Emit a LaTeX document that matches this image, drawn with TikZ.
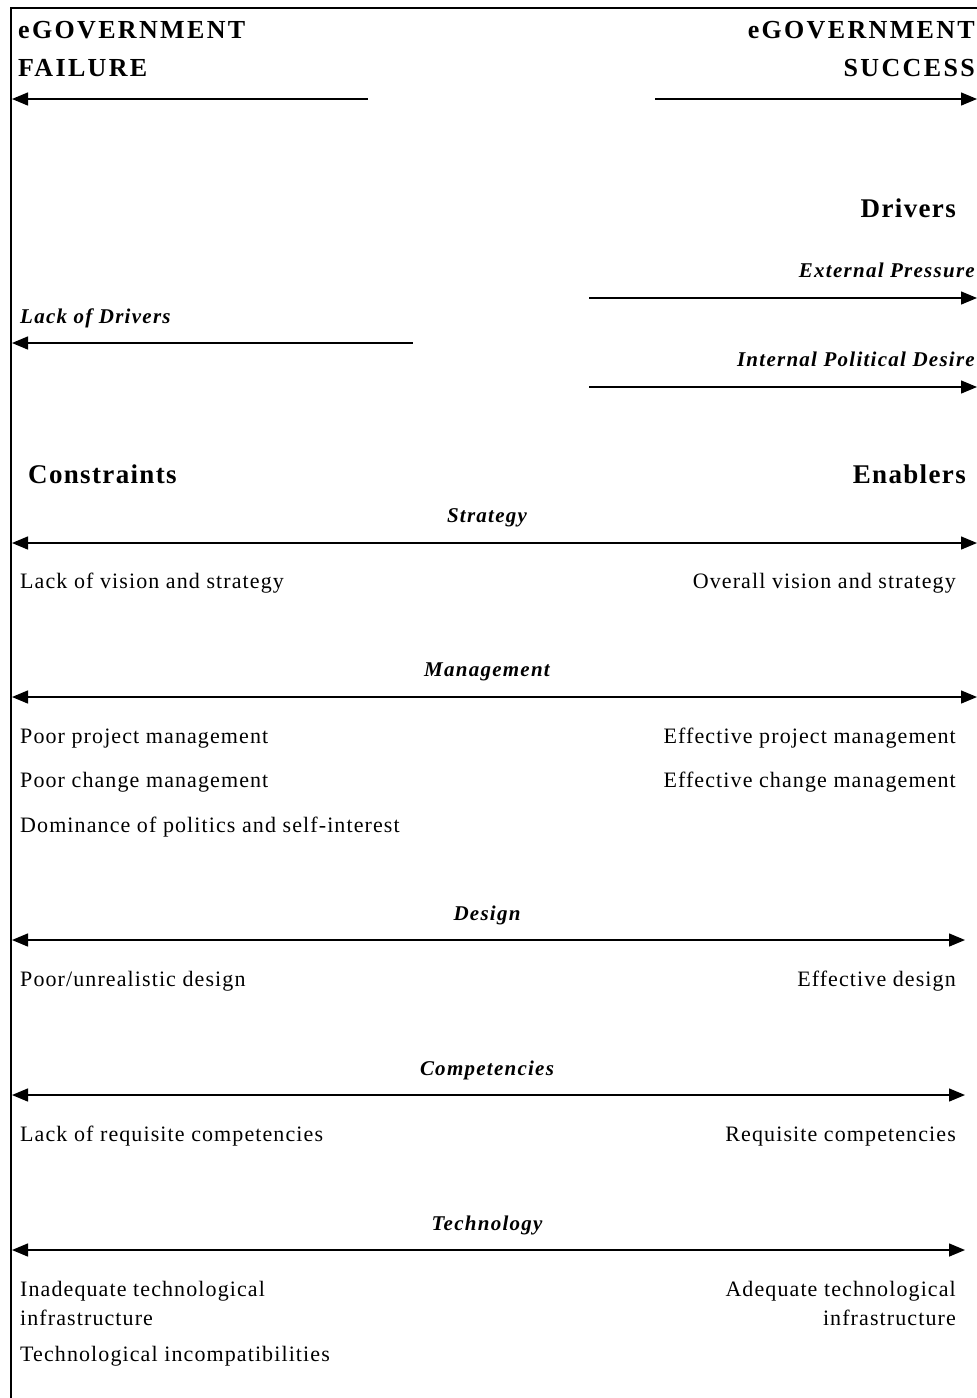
\documentclass[tikz,border=0pt]{standalone}
\usepackage{fontspec}
\setmainfont{Liberation Serif}[LetterSpace=5]
\usetikzlibrary{arrows.meta}
\begin{document}
\begin{tikzpicture}[x=1pt,y=-1pt,
  body/.style={inner sep=0pt,font=\fontsize{22}{26}\selectfont},
  lab/.style={inner sep=0pt,font=\fontsize{21}{25}\selectfont\bfseries\itshape\addfontfeature{LetterSpace=6}},
  head/.style={inner sep=0pt,font=\fontsize{26}{38}\selectfont\bfseries\addfontfeature{LetterSpace=9}},
  big/.style={inner sep=0pt,font=\fontsize{27}{30}\selectfont\bfseries\addfontfeature{LetterSpace=5}},
  tip/.tip={Triangle[length=16pt,width=13pt]},
  rarr/.style={line width=1.4pt,-tip},
  larr/.style={line width=1.4pt,tip-},
  darr/.style={line width=1.4pt,tip-tip}]
\useasboundingbox (0,0) rectangle (977,1398);
\draw[line width=2pt] (11,1398) -- (11,8) -- (977,8);

% headers
\node[head,anchor=base west] (fail1) at (18,38) {eGOVERNMENT};
\node[head,anchor=base west] (fail2) at (18,76) {FAILURE};
\node[head,anchor=base east] (succ1) at (975,38) {eGOVERNMENT};
\node[head,anchor=base east] (succ2) at (975,76) {SUCCESS};
\coordinate (f0) at (12,99); \coordinate (f1) at (368,99);
\coordinate (s0) at (655,99); \coordinate (s1) at (977,99);
\draw[larr] (f0) -- (f1);
\draw[rarr] (s0) -- (s1);

% drivers
\node[big,anchor=base east] (drv) at (956,217) {Drivers};
\node[lab,anchor=base east] (ext) at (975,277) {External Pressure};
\coordinate (e0) at (589,298); \coordinate (e1) at (977,298);
\draw[rarr] (e0) -- (e1);
\node[lab,anchor=base west] (lack) at (20,323) {Lack of Drivers};
\coordinate (l0) at (12,343); \coordinate (l1) at (413,343);
\draw[larr] (l0) -- (l1);
\node[lab,anchor=base east] (intp) at (975,366) {Internal Political Desire};
\coordinate (i0) at (589,387); \coordinate (i1) at (977,387);
\draw[rarr] (i0) -- (i1);

% constraints / enablers
\node[big,anchor=base west] (con) at (28,483) {Constraints};
\node[big,anchor=base east] (ena) at (966,483) {Enablers};

% strategy
\node[lab,anchor=base] (str) at (487,522) {Strategy};
\coordinate (st0) at (12,543); \coordinate (st1) at (977,543);
\draw[darr] (st0) -- (st1);
\node[body,anchor=base west] (str1) at (20,588) {Lack of vision and strategy};
\node[body,anchor=base east] (str2) at (956,588) {Overall vision and strategy};

% management
\node[lab,anchor=base] (man) at (487,676) {Management};
\coordinate (m0) at (12,697); \coordinate (m1) at (977,697);
\draw[darr] (m0) -- (m1);
\node[body,anchor=base west] (man1) at (20,743) {Poor project management};
\node[body,anchor=base west] (man2) at (20,787) {Poor change management};
\node[body,anchor=base west] (man3) at (20,832) {Dominance of politics and self-interest};
\node[body,anchor=base east] (man4) at (956,743) {Effective project management};
\node[body,anchor=base east] (man5) at (956,787) {Effective change management};

% design
\node[lab,anchor=base] (des) at (487,920) {Design};
\coordinate (d0) at (12,940); \coordinate (d1) at (965,940);
\draw[darr] (d0) -- (d1);
\node[body,anchor=base west] (des1) at (20,986) {Poor/unrealistic design};
\node[body,anchor=base east] (des2) at (956,986) {Effective design};

% competencies
\node[lab,anchor=base] (com) at (487,1075) {Competencies};
\coordinate (c0) at (12,1095); \coordinate (c1) at (965,1095);
\draw[darr] (c0) -- (c1);
\node[body,anchor=base west] (com1) at (20,1141) {Lack of requisite competencies};
\node[body,anchor=base east] (com2) at (956,1141) {Requisite competencies};

% technology
\node[lab,anchor=base] (tec) at (487,1230) {Technology};
\coordinate (t0) at (12,1250); \coordinate (t1) at (965,1250);
\draw[darr] (t0) -- (t1);
\node[body,anchor=base west] (tec1) at (20,1296) {Inadequate technological};
\node[body,anchor=base west] (tec2) at (20,1325) {infrastructure};
\node[body,anchor=base west] (tec3) at (20,1361) {Technological incompatibilities};
\node[body,anchor=base east] (tec4) at (956,1296) {Adequate technological};
\node[body,anchor=base east] (tec5) at (956,1325) {infrastructure};
\end{tikzpicture}
\end{document}
